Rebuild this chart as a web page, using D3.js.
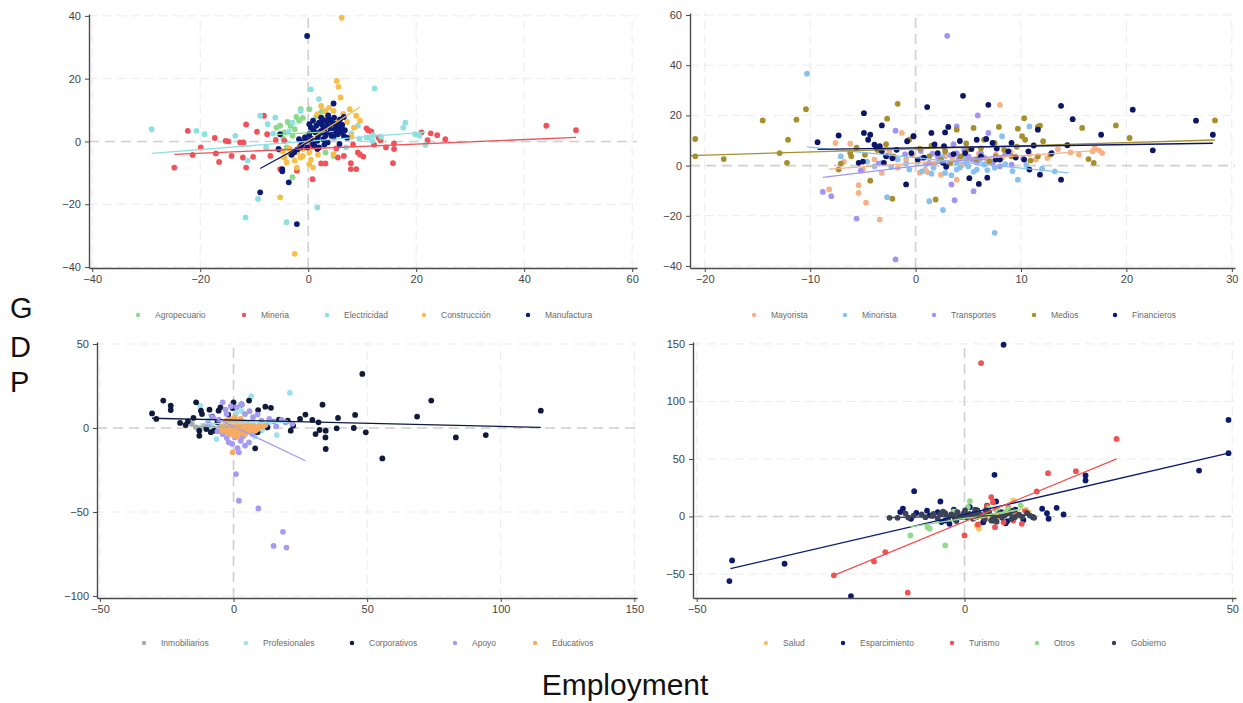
<!DOCTYPE html>
<html>
<head>
<meta charset="utf-8">
<script src="https://cdn.jsdelivr.net/npm/d3@7"></script>
<style>
  body { margin: 0; background: #fff; }
  svg { font-family: "Liberation Sans", Arial, sans-serif; }
</style>
</head>
<body>
<svg id="chart" width="1243" height="703"></svg>
<script>
"use strict";

// ---- data (employment growth x, GDP growth y) ----
const sectorsTL = ["Agropecuario", "Mineria", "Electricidad", "Construcción", "Manufactura"];
const agropecuario = [[-3.3,5],[-1.7,6.6],[-1.4,10.3],[-4.4,2.9],[-2.5,3.9],[0.2,10.3],[-2.9,-11.4],[-5.2,5],[3.2,-3.5],[4.7,-4.6],[-0.6,1.3],[-2.9,1.8],[-4,-1.9],[1.3,0.2],[-5.9,4.4],[1.5,8],[-1,7.5],
  [-3.8,6.2],[-2.2,7.8],[0.8,4.5],[-4.6,0.8],[2.5,9.5]];
const mineria = [[-22.3,3.4],[-21.4,-4.3],[-24.8,-8.3],[-19.9,-1.9],[-17.3,1.1],[-17.1,-3.8],[-16.5,-6.5],[-15.3,0.2],[-14.8,0],[-14.2,-4.6],[-12.6,-0.3],[-12,-0.3],[-12.1,-5.1],[-11.5,5.4],[-11.5,-8.3],[-10.2,-4.9],[-9.5,3.1],[-8.2,8.2],[-7.6,2.3],[-7,-4.6],[-5.2,-8.8],[-4.4,0.2],[-2.1,-9.3],[0.8,-12],[2.4,-7],[3.2,-7],[5.5,-5.1],[6.6,-4.6],[7.9,-6.9],[7.9,-8.8],[8.9,-8.8],[9.2,-3.5],[9.6,-4.2],[10.8,4.2],[11.1,3.6],[11.7,3.2],[13,1.3],[13.4,0.4],[14.4,-1.9],[15.9,-0.6],[15.9,-2.4],[15.7,-6.9],[21,2.9],[22.1,0.4],[22.7,2.6],[23.9,2],[25.4,0.7],[44.1,5],[49.6,3.6],[-1.5,-1.4],[0.5,-1.2],[-3,-4.2],
  [-6,0.5],[5.2,-2.2],[8.3,-1],[10.2,-4.8],[12.2,-1]];
const electricidad = [[-29,3.9],[-20.7,3.4],[-19.2,2.3],[-13.5,1.8],[-11.2,-6.1],[-11.6,-24.2],[-9.3,-18.3],[-8.9,8.2],[-7.8,-1.9],[-6.1,7.6],[-4,-25.7],[-2.9,6],[-1.4,9.7],[0.5,16.6],[1.7,-21],[2,13.5],[4.7,3.4],[9.2,5],[11.1,1.3],[12.3,16.9],[18,6],[17.6,4.4],[19.8,2.3],[21.7,-1.1],[20.6,1.8],[7,-1.9],[10.8,1.3],[11.9,0.2],
  [-6.5,2.5],[-7.5,5.5],[-3.6,3.2],[8,2.6],[9.5,0.8],[12,2],[13.5,1.5],[-5.3,-2.8]];
const construccion = [[6.2,39.4],[5.3,19.3],[5.6,17.4],[6,14],[-2.5,-35.8],[-5.2,-17.8],[-4.4,-5.1],[-3.3,-4],[-2.5,-6.1],[-2.1,-8.3],[-4,-6.7],[-1.4,-5.1],[0.2,-7.2],[0.9,-8.3],[4.7,9.7],[7.7,10.3],[8.9,8.2],[8.5,4.4],[5.5,6.6],[3.9,10.8],[1.7,8.7],[-1,-2.4],[4.7,-4],[0.2,-3.5],[9.6,6.6],[2.4,11.3],[3.2,9.7],
  [-3.5,-2.2],[-2,-3.4],[-1,-4.6],[0.5,-5.8],[1.8,-4.2],[3.5,7.8],[6.5,8.8],[7.2,6.2],[8,1.5],[-4.7,-3.2]];
const manufactura = [[-0.2,33.6],[4.7,12.1],[-2.1,-26.3],[-8.9,-16.2],[-3.6,-13],[-4.8,-9.5],[-4.8,-8.8],[-5.2,2.3],[-5.5,-2.4],[6.6,7.8],[6.6,1.8],[-1.7,0.7],[-1,-0.3],[-0.6,1.3],[0.2,2.3],[0.5,4.4],[0.9,6.6],[1.3,2.9],[1.7,0.2],[2,-1.9],[2.4,7.6],[2.8,4.4],[3.2,1.8],[3.6,-0.3],[3.9,6.6],[4.3,3.4],[4.7,1.3],[5.1,4.4],[5.5,2.3],[5.8,5.5],[3.9,7.1],[2.4,3.4],[0.9,-0.8],[-0.2,-1.9],[-1.4,-1.9],[3.2,6.6],[4.1,2.9],[1.7,-2.4],[0.2,5.5],[2.8,0.7],[6.2,2.9],[5.8,-0.8],
  [1.5,5],[2,6],[2.5,5.5],[3,4],[3.5,5],[4,4.5],[4.5,6],[5,5.5],[5.5,3.5],[6,4],[1,3.5],[1.8,1.5],[2.2,3],[3.3,2.5],[4.3,1.8],[5.2,2.8],[6.3,5.2],[0.5,1],[-0.5,0.2],[-1.2,-1],[-2,-2.5],[-2.6,-3.4],[-3.1,-4.2],[3.7,8.3],[4.8,7.6],[2.7,6.9],[5.9,7],[1.2,-1.5],[6.8,3.6],[3,-1],[7.2,1.2]];
// fitted lines: [x0, y0, x1, y1]
const fitsTL = [[-5.9,2.2,4.7,3.2],[-24.8,-4.1,49.6,1.3],[-29,-3.8,21.7,3],[-5.2,-5.5,9.6,11],[-8.9,-8.6,6.6,6]];

const sectorsTR = ["Mayorista", "Minorista", "Transportes", "Medios", "Financieros"];
const mayorista = [[8,24.2],[-5.4,-7.8],[-5.4,-10.9],[-4.7,-14.8],[-3.4,-21.5],[-8.2,-9.5],[-7.6,9],[-6.2,8.7],[-5,-1.6],[-1.7,-0.9],[-1.3,13],[0.9,-1.6],[1.1,-2.6],[3.9,-5.6],[2.8,3.7],[5,2.4],[7.6,4.4],[9.5,3.7],[14.7,5.3],[15.5,4.4],[16.8,5.7],[17.4,6.1],[17.7,5],[17,7],[11.4,2.4],[-3.9,2.4],[-3.2,-2.9],[-0.9,2.4],
  [-0.3,4.2],[0.4,-2.8],[1.8,0.9],[2.4,-3.6],[3.5,2.8],[4.4,0.2],[6,4.8],[6.8,1.5],[8.2,3.1],[9,5.5],[10.8,4.6],[12.5,3],[13.5,6.5],[-2.5,5.5],[-6.8,1.5]];
const minorista = [[-10.3,36.6],[7.5,-26.8],[2.6,-17.7],[1.3,-14.2],[-2.7,-12.6],[-7.1,3.7],[9.7,-5.6],[10.8,15.6],[8.2,11.7],[-0.6,-1.6],[0.6,-2.3],[1.7,-0.9],[2.8,-2.9],[3.9,1.1],[5,-0.3],[5.8,-1.6],[6.5,0.4],[7.5,-0.9],[-3.9,-0.3],[-1.7,2.4],[3.9,-1.6],[4.7,3.7],[13.2,-2.3],[-3.2,1.1],
  [0.2,1.5],[1,0.5],[1.5,-3.2],[2.2,1.8],[3,0.2],[3.4,-3.8],[4.2,-0.8],[4.8,1.2],[5.5,-2.5],[6.1,2.2],[6.8,-1.8],[7.2,1.5],[8.5,0.6],[9.2,-2.2],[-0.9,0.8],[-2.3,-0.5],[-4.6,1.6],[2.5,3.5],[10.5,0.2],[12,-1.2]];
const transportes = [[3,51.7],[-1.9,-37.4],[-5.6,-21.1],[-8.8,-10.5],[-8,-12.2],[3.4,-7.5],[3.7,-13.8],[5.5,-10.2],[5.9,20],[-1.9,13.9],[3.9,15.6],[6.9,13],[1.3,1.1],[2.1,3.7],[5,3.7],[5.4,2.4],[6.2,5],[8,-0.3],[9.1,0.4],[3.9,5],[2.8,6.4],[0.6,3],[-2.4,3.7],
  [0.5,5.8],[1.6,4.8],[2.4,2.2],[3.3,4.2],[4.1,2.8],[4.6,6.2],[5.8,1.2],[6.5,3.2],[7.3,0.8],[8.5,4.5],[10.2,2.8],[-1,4.5],[-3.5,0.8],[-5.2,-2],[3.6,8.5]];
const medios = [[-20.9,10.6],[-20.9,3.7],[-18.2,2.6],[-14.5,18],[-12.9,5],[-12.1,10.3],[-12.2,1.1],[-11.3,18.3],[-10.4,22.5],[-7.3,-1.6],[-7.1,0.8],[-6.2,5],[-6.1,3.7],[-4.3,-6],[-2.7,18.7],[-2.2,-13.2],[-1.7,24.6],[-2.1,3.7],[-0.6,10.3],[-0.2,11.7],[1.3,3.7],[1.9,-13.5],[2.4,2.4],[3.9,14.3],[4.3,3.7],[5.5,15],[5.8,2.6],[6.5,10.3],[7.5,9],[7.9,15.4],[7.6,3.7],[9.1,3.7],[9.7,14.7],[10.1,11.7],[10.3,18.9],[10.4,10.3],[11.6,15.4],[11.8,15.9],[12.1,9.7],[15.8,15],[16.4,2.6],[16.9,1.1],[19,16],[20.3,11],[28.4,18],[11.6,3.7],[5,6.4],
  [-3.6,6.2],[-2.8,8.5],[0.4,6.8],[1.5,7.9],[2.8,5.6],[3.3,1.1],[4.8,8.8],[6.2,6.9],[7,1.8],[8.4,6.3],[9.6,7.5],[10.9,2],[12.8,4.4],[-4.8,4.3],[-5.6,7.2]];
const financieros = [[-9.3,9.3],[-7.3,12],[-4.9,20.9],[-4.9,13],[-5.4,1.1],[-5,1.6],[-4.3,12.3],[-4.5,10.3],[-3.9,8.3],[-3.7,7],[-3.4,7.7],[-3.2,5.7],[-3.2,16],[-2.8,3.7],[-3,1.1],[-0.9,-7.5],[-0.8,9.7],[-0.2,11.7],[-0.4,5],[0.2,2.4],[1.1,23.3],[1.5,13],[2.1,5],[2.6,1.1],[2.7,7.7],[2.8,13.2],[3.1,15.4],[4.5,27.8],[5.1,-5],[4.7,5],[5.8,10.3],[6,-7.3],[6.2,3.7],[6.8,-4.8],[6.9,24.2],[6.7,10.6],[7.3,9],[7.6,2.4],[8,2.4],[9.1,9],[10.3,2.4],[10.7,5.7],[10.8,-1.6],[11.6,14.3],[11.8,-3.6],[12.9,5],[13.8,23.8],[13.8,-5.6],[14.4,8.1],[14.9,18.5],[17.6,12.3],[20.6,22.3],[22.5,6.1],[26.6,17.9],[28.2,12.3],[8.8,5.7],
  [0.8,3.2],[1.8,8.4],[3.6,4.6],[4.2,9.8],[5.3,6.6],[7.7,6.8],[9.5,3.2],[11.2,8],[-1.8,6.3],[-2.2,2.9],[2.9,-0.5]];
const fitsTR = [[-8.2,-1.4,17.7,6.2],[-10.3,7.5,14.5,-2.9],[-8.8,-4.7,9.1,4.5],[-21.4,4,28.4,10.2],[-9.3,6.5,28.2,8.9]];

const sectorsBL = ["Inmobiliarios", "Profesionales", "Corporativos", "Apoyo", "Educativos"];
const inmobiliarios = [[-15.6,2.4],[-14,0.4],[-11,1.4],[-7.9,0.4],[-4.9,1.4],[-1.8,-0.6],[2.7,0.4],[5.8,-0.6],[-13,-1],[-9,2]];
const profesionales = [[21.1,20.9],[6.6,18.9],[16.2,-4.2],[-6.4,-6.6],[-12.5,13.3],[4.3,-3.6],[10.4,-1.6],[7.3,2.4],[-3.4,-3.6],[-1.8,4.4],[-9.5,4.4],[1,9],[13,3],
  [-5,-2],[3,10],[8,-5],[-8,1],[12,0]];
const corporativos = [[-30.5,8.7],[-28.9,5.4],[-26.3,16.3],[-23.5,13.3],[-23.5,10.7],[-17.9,1.8],[-17.1,4],[-14,15.3],[-12.8,-1.6],[-12.8,-4.6],[-12.2,10.3],[-11.8,8.3],[-10.2,-0.6],[-9,10.9],[-7.9,6.8],[-7.2,-1.6],[-5.6,10.3],[-4.9,12.3],[0,15.3],[-0.3,11.9],[5.8,16.3],[8.1,-12.1],[9.2,10.7],[11.9,12.7],[12.7,0.4],[20.3,4.4],[21.4,-1.6],[22.3,1.4],[24.9,5.4],[26.9,8],[29.5,4.8],[30.7,-3.6],[31.8,3.4],[32.2,-1.2],[33.3,13.9],[34.4,-5.6],[34.5,-12.5],[34.5,-1.6],[38.6,-0.2],[39.1,6],[45,0],[45.5,7.8],[48.2,32.2],[49.5,-2.6],[55.7,-18.1],[68.7,6.8],[74,16.3],[83.2,-5.6],[94.4,-4.2],[115,10.3],[4.3,2.4],[6.6,-1.6],[-3.4,0.4],
  [-8.5,-2.5],[-6,3.5],[-2,8],[3,14],[9,-2.5],[14,12],[17,5],[-15,6],[-20,3]];
const apoyo = [[0.9,-27.4],[2,-43.3],[9.3,-47.9],[18.5,-61.8],[15,-70.2],[19.8,-71.2],[-4.1,15.3],[2,-14.5],[-1.8,-8.5],[4.3,-10.5],[2.7,-7.6],[5.8,-8.5],[-4.1,-3.6],[1.2,12.3],[4.3,8.3],[7.3,6.4],[10.4,4.4],[13.4,5.4],[18,4.8],[19.5,3.4],[-7.9,6.4],[-9.5,2.4],[-2.6,8.3],[8.9,0.4],[0.5,-5.6],
  [-5.5,5],[-3,11],[-1,13],[3,14],[6,10],[9,8],[12,2],[15,4],[22,2.5],[16,1],[-6,-2],[-2.5,-6],[3.5,-5],[7,-3.5],[1.5,-12],[-0.5,-9.5]];
const educativos = [[-0.3,-14.5],[-3.7,0.4],[-2.6,-1.6],[-1.8,2.4],[-1.1,-0.6],[-0.3,1.4],[0.5,-1.6],[1.2,3.4],[2,0.4],[2.7,-2.6],[3.5,2.4],[4.3,-0.6],[5,1.4],[5.8,-1.6],[7.3,0],[8.9,0.4],[-2.6,4.4],[-1.1,-3.6],[0.5,6.4],[2.7,5.4],[-4.1,-1.6],[-3.4,1.4],[4.3,-3.6],[6.6,1.4],[8.1,-1.6],[9.6,1.4],[0,0],[1.5,-1.2],[3,2],[-1.5,0.4],[0.9,-3.2],
  [-2,2.8],[-1.2,4],[-0.5,-2.5],[0.3,2.2],[0.8,-0.4],[1.9,1.6],[2.4,-1.4],[3.2,0.6],[3.8,-2],[4.6,1],[5.4,-0.2],[6.2,0.3],[7.6,1.2],[-3,-0.4],[-2.2,-3],[-0.6,5.2],[1.4,-5],[2.2,3.9],[3.9,3.3],[5.6,2.8],[-4.5,0.8],[-1.6,-1.6],[0.2,-4.4],[6.8,-0.8],[9,-0.6],[10.5,0.8],[11.5,1.5],[1,1],[-0.8,0.9],[2.6,-0.2]];
const fitsBL = [[-15.6,1.2,5.8,0.2],[-12.5,2.5,21.1,3.5],[-30.5,5.8,115,0.4],[-9.5,8,26.9,-19.5],[-4.1,-0.5,9.6,1]];

const sectorsBR = ["Salud", "Esparcimiento", "Turismo", "Otros", "Gobierno"];
const salud = [[2.7,-10.7],[9.1,13.9],[12,3.8],[3.1,-6.4],[6.1,-0.6],[1.6,2.3],[2.3,-8],[4,-2],[7.5,4.5],[10,0.5]];
const esparcimiento = [[7.3,149.3],[49.3,83.9],[49.3,55],[43.8,39.9],[22.6,35.6],[22.6,31.3],[5.6,36.2],[-9.4,22],[-43.4,-38.2],[-43.9,-56.2],[-33.6,-41.1],[-21.2,-69.2],[-11.5,6.7],[-12,3.8],[-4.5,13],[5.9,13],[14.5,6.7],[15.4,2.9],[15.7,-2],[17.2,7.5],[18.5,1.7],[12.8,-0.6],[-3.6,-3.5],[-2.8,-6.4],[-4.3,-4.9],[5.3,-3.5],[6.8,3.8],[2.4,5.2],[0.1,0.9],[-6.5,0.9],[-5,3.8],
  [-9,3],[-7,5],[-2,6],[1,8],[3.5,-5],[8,-4],[9.5,6],[11,-3],[-10,-2],[4.2,9.5],[7.7,-6]];
const turismo = [[3.1,133.4],[28.4,67.4],[20.8,39.4],[15.6,37.6],[13.5,21.7],[-24.4,-51.2],[-16.9,-39.1],[-14.8,-31],[-10.6,-66.3],[0,-16.5],[5,16.8],[5.3,12.4],[5.7,-9.3],[9.1,-3.5],[10.7,-6.4],[11.3,5.2],[6.8,0.9],[3.9,3.8],
  [4.2,9],[6,6],[7.3,-5],[8.2,7.5],[9.8,1.5],[2.5,-7]];
const otros = [[-3.6,-25.2],[-10.1,-16.5],[-6.5,-10.7],[-6.9,-9.3],[1,13.3],[10.5,9.6],[2.4,3.8],[6.1,5.2],[7.6,2.9],[-0.6,-0.6],[3.9,0.9],
  [-2,4.5],[0.6,8],[4.5,7],[8.2,6.5],[5.5,-2]];
const gobierno = [[-14,-1.2],[-12.5,-1.2],[-8,1.7],[-5.8,2.3],[-2.1,0.9],[-1.3,3.8],[-0.6,-0.6],[0.9,2.3],[1.6,-2],[2.7,2.9],[3.5,-0.6],[4.6,3.8],[6.1,0.9],[7.9,2.3],[9.4,-0.6],[11.7,2.9],[13,-1.2],[-7.3,-0.6],[-3.6,2.9],[0.1,5.2],[5,-3.5],
  [-6,0.5],[-5,-1.5],[-4.5,2],[-3,-0.8],[-2.5,1.8],[-1.8,-2.5],[-1,0.3],[-0.2,2.5],[0.4,-1],[1.2,0.6],[1.9,3.5],[2.3,-0.4],[3,1.4],[3.8,-2.4],[4.2,2],[5.3,0.1],[5.6,-1.8],[6.6,2.8],[7,-0.9],[7.5,1],[8.5,3.2],[8.8,-2],[10.2,1.5],[10.8,-0.4],[12.2,0.8],[-9.5,0.8],[-10.5,-1],[-11,2.5],[-4,4.2],[2,6],[4,5.5],[6,-4.5],[9,5],[-1.5,-4]];
const fitsBR = [[1.6,-3,12,8],[-43.7,-45.4,49.3,55],[-24.4,-51.2,28.4,50],[-10.1,-9,10.5,6],[-14,-1,13,1.5]];

const ticksTL = { x: [-40, -20, 0, 20, 40, 60], y: [-40, -20, 0, 20, 40] };
const ticksTR = { x: [-20, -10, 0, 10, 20, 30], y: [-40, -20, 0, 20, 40, 60] };
const ticksBL = { x: [-50, 0, 50, 100, 150], y: [-100, -50, 0, 50] };
const ticksBR = { x: [-50, 0, 50], y: [-50, 0, 50, 100, 150] };

// ---- styles / layout ----
const colorsTL = ["#8cd98a", "#f0525a", "#8fe0e0", "#f7be48", "#0b1a78"];
const colorsTR = ["#f6b286", "#88c1f0", "#a294f2", "#a68f2c", "#0c1668"];
const colorsBL = ["#a3aeab", "#9be3ea", "#0f1a3c", "#a49bf2", "#f6ab62"];
const colorsBR = ["#f6c46a", "#0c1a6e", "#f05252", "#91dc8b", "#3b4358"];

const panels = [
  { names: sectorsTL, series: [agropecuario, mineria, electricidad, construccion, manufactura], fits: fitsTL, colors: colorsTL, ticks: ticksTL,
    xDom: [-40.6, 60.9], xRng: [89, 637], yDom: [-40.3, 40.6], yRng: [268, 14], legY: 315, legX: [138, 244, 327, 424, 528] },
  { names: sectorsTR, series: [mayorista, minorista, transportes, medios, financieros], fits: fitsTR, colors: colorsTR, ticks: ticksTR,
    xDom: [-21.4, 30.3], xRng: [690, 1235], yDom: [-40.8, 60.8], yRng: [268, 13], legY: 315, legX: [754, 845, 934, 1034, 1115] },
  { names: sectorsBL, series: [inmobiliarios, profesionales, corporativos, apoyo, educativos], fits: fitsBL, colors: colorsBL, ticks: ticksBL,
    xDom: [-51.1, 151], xRng: [97, 637], yDom: [-101.2, 51.2], yRng: [598, 342], legY: 643, legX: [144, 246, 352, 455, 535] },
  { names: sectorsBR, series: [salud, esparcimiento, turismo, otros, gobierno], fits: fitsBR, colors: colorsBR, ticks: ticksBR,
    xDom: [-50.7, 50.7], xRng: [693, 1236], yDom: [-70.9, 151.7], yRng: [598, 342], legY: 643, legX: [766, 843, 952, 1037, 1114] }
];

const svg = d3.select("#chart");

panels.forEach(p => {
  const x = d3.scaleLinear().domain(p.xDom).range(p.xRng);
  const y = d3.scaleLinear().domain(p.yDom).range(p.yRng);
  const g = svg.append("g");

  // grid
  g.selectAll(".gx").data(p.ticks.x.filter(t => t !== 0)).join("line")
    .attr("x1", d => x(d)).attr("x2", d => x(d))
    .attr("y1", p.yRng[0]).attr("y2", p.yRng[1])
    .attr("stroke", "#ebebeb").attr("stroke-width", 1).attr("stroke-dasharray", "9,5");
  g.selectAll(".gy").data(p.ticks.y.filter(t => t !== 0)).join("line")
    .attr("y1", d => y(d)).attr("y2", d => y(d))
    .attr("x1", p.xRng[0]).attr("x2", p.xRng[1])
    .attr("stroke", "#ebebeb").attr("stroke-width", 1).attr("stroke-dasharray", "9,5");
  // zero reference lines
  g.append("line").attr("x1", x(0)).attr("x2", x(0)).attr("y1", p.yRng[0]).attr("y2", p.yRng[1])
    .attr("stroke", "#cfcfcf").attr("stroke-width", 1.6).attr("stroke-dasharray", "10,6");
  g.append("line").attr("y1", y(0)).attr("y2", y(0)).attr("x1", p.xRng[0]).attr("x2", p.xRng[1])
    .attr("stroke", "#cfcfcf").attr("stroke-width", 1.6).attr("stroke-dasharray", "10,6");

  // points
  p.series.forEach((s, i) => {
    g.append("g").selectAll("circle").data(s).join("circle")
      .attr("cx", d => x(d[0])).attr("cy", d => y(d[1]))
      .attr("r", 2.9).attr("fill", p.colors[i]);
  });
  // fitted lines
  g.selectAll(".fit").data(p.fits).join("line")
    .attr("x1", d => x(d[0])).attr("y1", d => y(d[1]))
    .attr("x2", d => x(d[2])).attr("y2", d => y(d[3]))
    .attr("stroke", (d, i) => p.colors[i]).attr("stroke-width", 1.3);

  // axes
  const ax = g.append("g").attr("transform", `translate(0,${p.yRng[0]})`)
    .call(d3.axisBottom(x).tickValues(p.ticks.x).tickSize(4).tickPadding(3).tickSizeOuter(0));
  const ay = g.append("g").attr("transform", `translate(${p.xRng[0]},0)`)
    .call(d3.axisLeft(y).tickValues(p.ticks.y).tickSize(4).tickPadding(4).tickSizeOuter(0));
  [ax, ay].forEach(a => {
    a.select(".domain").attr("stroke", "#4a4a4a").attr("stroke-width", 1.4);
    a.selectAll(".tick line").attr("stroke", "#4a4a4a");
    a.selectAll(".tick text").attr("fill", "#444").style("font-size", "11px")
      .style("font-family", "'Liberation Sans', Arial, sans-serif");
  });

  // legend
  const leg = g.append("g");
  p.names.forEach((n, i) => {
    leg.append("circle").attr("cx", p.legX[i]).attr("cy", p.legY).attr("r", 2.2).attr("fill", p.colors[i]);
    leg.append("text").attr("x", p.legX[i] + 17).attr("y", p.legY + 3)
      .attr("fill", "#6a6a6a").style("font-size", "8.5px").text(n);
  });
});

// axis titles
const yLetters = ["G", "D", "P"];
const yLetterBase = [318, 357, 392];
svg.selectAll(".ylab").data(yLetters).join("text")
  .attr("x", 10).attr("y", (d, i) => yLetterBase[i])
  .style("font-size", "29px").attr("fill", "#111").text(d => d);
svg.append("text").attr("x", 625).attr("y", 695).attr("text-anchor", "middle")
  .style("font-size", "30px").attr("fill", "#111").text("Employment");
</script>
</body>
</html>
